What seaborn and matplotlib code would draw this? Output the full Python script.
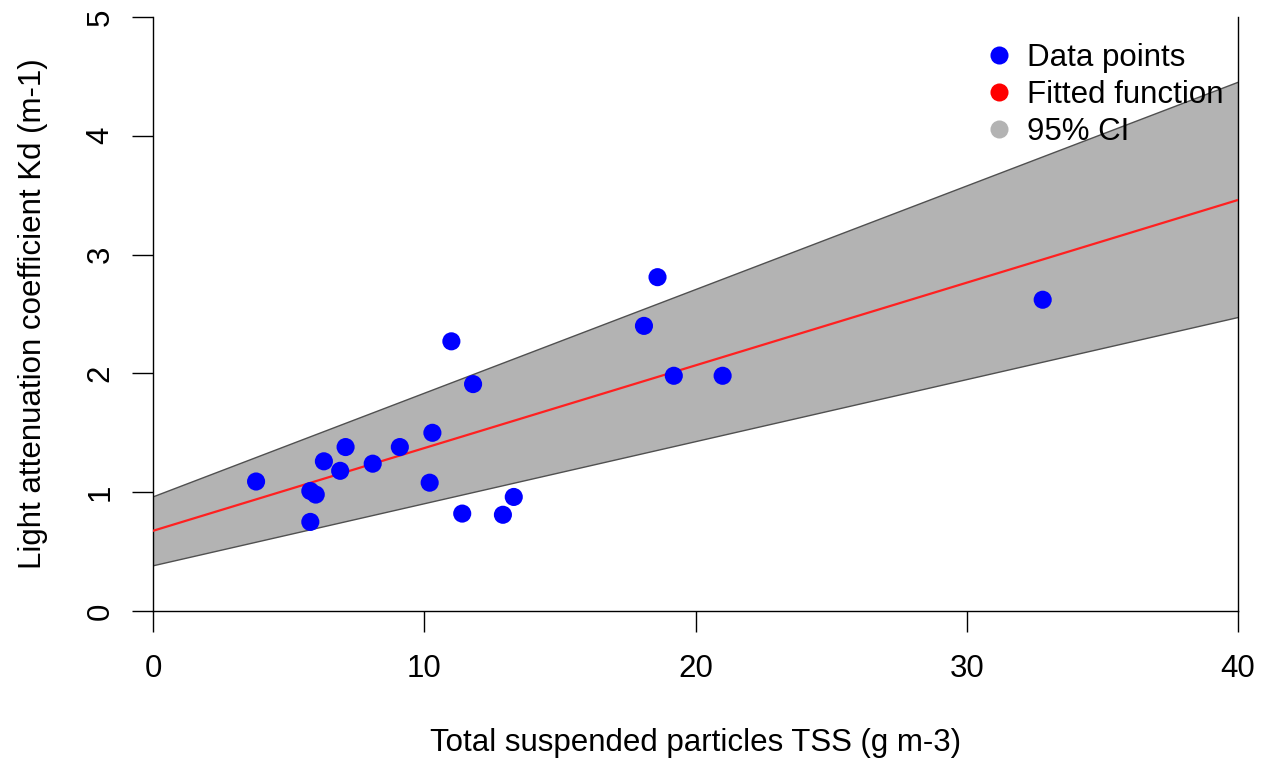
import matplotlib
matplotlib.use("Agg")
import matplotlib.pyplot as plt
from matplotlib.lines import Line2D
import seaborn as sns
import pandas as pd

# Data
tss = [3.8, 5.8, 6.0, 5.8, 6.3, 6.9, 7.1, 8.1, 9.1, 10.3, 10.2, 11.0, 11.4, 11.8,
       12.9, 13.3, 18.1, 18.6, 19.2, 21.0, 32.8]
kd = [1.09, 1.01, 0.98, 0.75, 1.26, 1.18, 1.38, 1.24, 1.38, 1.50, 1.08, 2.27, 0.82, 1.91,
      0.81, 0.96, 2.40, 2.81, 1.98, 1.98, 2.62]

fit_x = [0, 40]
fit_y = [0.675, 3.46]
ci_lower = [0.38, 2.47]
ci_upper = [0.96, 4.45]

xticks = [0, 10, 20, 30, 40]
yticks = [0, 1, 2, 3, 4, 5]

sns.set_theme(style="white")
plt.rcParams['font.family'] = ['Liberation Sans', 'DejaVu Sans']
plt.rcParams['text.color'] = 'black'

fig = plt.figure(figsize=(12.65, 7.64), dpi=100)
ax = fig.add_axes([153/1265, 1 - 611/764, (1238 - 153)/1265, (611 - 17)/764])

ax.fill_between(fit_x, ci_lower, ci_upper, facecolor="#B3B3B3", edgecolor="none", zorder=1)
ax.plot(fit_x, ci_lower, color="#505050", lw=1.0, zorder=2)
ax.plot(fit_x, ci_upper, color="#505050", lw=1.0, zorder=2)

df_fit = pd.DataFrame({"x": fit_x, "y": fit_y})
sns.lineplot(data=df_fit, x="x", y="y", color="#FF2020", lw=1.6, ax=ax, zorder=3)

df = pd.DataFrame({"tss": tss, "kd": kd})
sns.scatterplot(data=df, x="tss", y="kd", color="#0000FF", s=170, edgecolor="none",
                ax=ax, zorder=4)

ax.set_xlim(0, 40)
ax.set_ylim(0, 5)
ax.set_xticks(xticks)
ax.set_yticks(yticks)
ax.set_xticklabels([str(t) for t in xticks])
ax.set_yticklabels([str(t) for t in yticks], rotation=90, va="center")
ax.tick_params(axis="both", which="major", bottom=True, left=True, direction="out",
               length=15, width=1.0, color="black", labelsize=22.5, labelcolor="black")
ax.tick_params(axis="x", pad=16)
ax.tick_params(axis="y", pad=12)

for side in ["left", "bottom", "right"]:
    ax.spines[side].set_visible(True)
    ax.spines[side].set_color("black")
    ax.spines[side].set_linewidth(1.0)
ax.spines["top"].set_visible(False)

ax.set_xlabel("Total suspended particles TSS (g m-3)", fontsize=22.5, color="black", labelpad=32)
ax.set_ylabel("Light attenuation coefficient Kd (m-1)", fontsize=22.5, color="black", labelpad=27)

handles = [
    Line2D([0], [0], marker="o", color="none", markerfacecolor="#0000FF", markeredgecolor="none", markersize=13),
    Line2D([0], [0], marker="o", color="none", markerfacecolor="#FF0000", markeredgecolor="none", markersize=13),
    Line2D([0], [0], marker="o", color="none", markerfacecolor="#B3B3B3", markeredgecolor="none", markersize=13),
]
leg = ax.legend(handles, ["Data points", "Fitted function", "95% CI"], loc="upper right",
                bbox_to_anchor=(1.004, 0.988), frameon=False, fontsize=22.5, handlelength=1.0,
                handletextpad=0.4, labelspacing=0.22, borderaxespad=0.2)
for t in leg.get_texts():
    t.set_color("black")

fig.savefig("out.png", dpi=100)
